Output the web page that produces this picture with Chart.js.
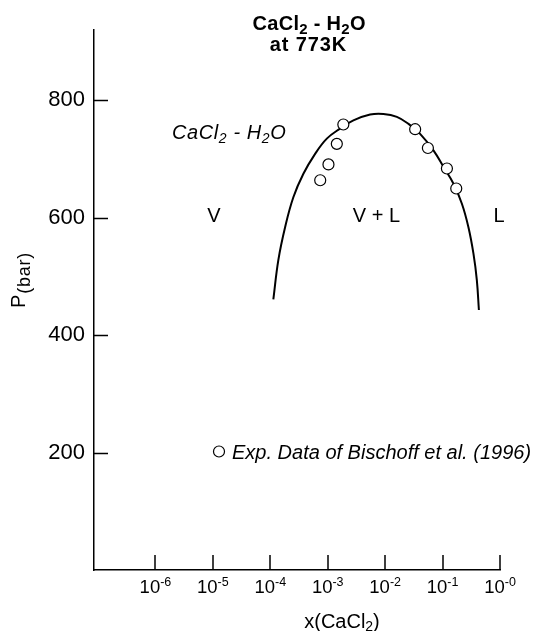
<!DOCTYPE html>
<html>
<head>
<meta charset="utf-8">
<title>CaCl2 - H2O at 773K</title>
<script src="https://cdn.jsdelivr.net/npm/chart.js@4.4.1/dist/chart.umd.min.js"></script>
<style>
  html, body { margin: 0; padding: 0; background: #fff; }
  #c { display: block; }
</style>
</head>
<body>
<canvas id="c" width="534" height="631"></canvas>
<script>
// Two-phase (V + L) boundary of CaCl2 - H2O at 773 K
const boundaryX = [1.13e-4, 1.38e-4, 1.81e-4, 2.52e-4, 3.77e-4, 6.03e-4, 9.64e-4, 1.64e-3,
                   2.80e-3, 5.47e-3, 9.33e-3, 0.0160, 0.0255, 0.0406, 0.0693, 0.1035,
                   0.155, 0.217, 0.282, 0.345, 0.395, 0.429];
const boundaryP = [461, 528, 584, 635, 675, 709, 735, 752,
                   766, 776, 777, 772, 760, 743, 715, 687,
                   658, 624, 584, 539, 494, 443];

// Experimental data, Bischoff et al. (1996)
const expX = [7.4e-4, 1.03e-3, 1.44e-3, 1.87e-3, 0.0333, 0.0555, 0.119, 0.173];
const expP = [664, 691, 726, 759, 751, 719, 684, 650];

// Axis ticks
const yTickValues = [200, 400, 600, 800];
const xTickExponents = ['-6', '-5', '-4', '-3', '-2', '-1', '-0'];
const xTickValues = [1e-6, 1e-5, 1e-4, 1e-3, 1e-2, 1e-1, 1];

const FONT = '"Liberation Sans", Arial, Helvetica, sans-serif';
const INK = '#000';

function fontStr(r) {
  const parts = [];
  if (r.style) parts.push(r.style);
  if (r.weight) parts.push(r.weight);
  parts.push(r.size + 'px');
  parts.push(FONT);
  return parts.join(' ');
}

// Draws a run of text pieces (with sub/superscripts), optionally with tracking.
function drawRich(ctx, runs, x, y, align, track) {
  track = track || 0;
  const items = [];
  let total = 0;
  for (const r of runs) {
    const f = fontStr(r);
    ctx.font = f;
    if (!track) {
      const w = ctx.measureText(r.t).width;
      items.push({ ch: r.t, f, w, dy: r.dy || 0 });
      total += w;
      continue;
    }
    for (const ch of r.t) {
      const w = ctx.measureText(ch).width;
      items.push({ ch, f, w, dy: r.dy || 0 });
      total += w + track;
    }
  }
  if (track) total -= track;
  let cx = align === 'center' ? x - total / 2 : align === 'right' ? x - total : x;
  ctx.textAlign = 'left';
  ctx.textBaseline = 'alphabetic';
  ctx.fillStyle = INK;
  for (const it of items) {
    ctx.font = it.f;
    ctx.fillText(it.ch, cx, y + it.dy);
    cx += it.w + track;
  }
}

const decorations = {
  id: 'decorations',
  afterDraw(chart) {
    const ctx = chart.ctx;
    const xs = chart.scales.x, ys = chart.scales.y;
    const area = chart.chartArea;
    ctx.save();

    // inward tick marks
    ctx.strokeStyle = INK;
    ctx.lineWidth = 1.5;
    ctx.beginPath();
    for (const v of yTickValues) {
      const py = Math.round(ys.getPixelForValue(v)) + 0.5;
      ctx.moveTo(area.left, py);
      ctx.lineTo(area.left + 14, py);
    }
    for (const v of xTickValues) {
      const px = Math.round(xs.getPixelForValue(v));
      ctx.moveTo(px, area.bottom);
      ctx.lineTo(px, area.bottom - 15);
    }
    ctx.stroke();

    // x tick labels: 10 with superscript exponent
    xTickValues.forEach((v, i) => {
      const px = xs.getPixelForValue(v);
      drawRich(ctx, [
        { t: '10', size: 18.5 },
        { t: xTickExponents[i], size: 12.5, dy: -7 }
      ], px, 593, 'center', 0);
    });

    // title
    drawRich(ctx, [
      { t: 'CaCl', size: 20, weight: 'bold' },
      { t: '2', size: 15, weight: 'bold', dy: 3.5 },
      { t: ' - H', size: 20, weight: 'bold' },
      { t: '2', size: 15, weight: 'bold', dy: 3.5 },
      { t: 'O', size: 20, weight: 'bold' }
    ], 309, 30, 'center', 0.3);
    drawRich(ctx, [{ t: 'at 773K', size: 20, weight: 'bold' }], 308, 51, 'center', 0.9);

    // system label
    drawRich(ctx, [
      { t: 'CaCl', size: 20, style: 'italic' },
      { t: '2', size: 14, style: 'italic', dy: 4 },
      { t: ' - H', size: 20, style: 'italic' },
      { t: '2', size: 14, style: 'italic', dy: 4 },
      { t: 'O', size: 20, style: 'italic' }
    ], 172, 139, 'left', 0.6);

    // phase region labels
    drawRich(ctx, [{ t: 'V', size: 20 }], 214, 222, 'center', 0);
    drawRich(ctx, [{ t: 'V + L', size: 20 }], 376.5, 222, 'center', 0);
    drawRich(ctx, [{ t: 'L', size: 20 }], 499, 222, 'center', 0);

    // legend
    ctx.beginPath();
    ctx.arc(219, 451.5, 5.5, 0, Math.PI * 2);
    ctx.fillStyle = '#fff';
    ctx.fill();
    ctx.lineWidth = 1.2;
    ctx.strokeStyle = INK;
    ctx.stroke();
    drawRich(ctx, [{ t: 'Exp. Data of Bischoff et al. (1996)', size: 20, style: 'italic' }], 232, 458.5, 'left', 0);

    // axis titles
    drawRich(ctx, [
      { t: 'x(CaCl', size: 20 },
      { t: '2', size: 14, dy: 3 },
      { t: ')', size: 20 }
    ], 342, 628, 'center', 0);

    ctx.save();
    ctx.translate(25, 308);
    ctx.rotate(-Math.PI / 2);
    drawRich(ctx, [
      { t: 'P', size: 20 },
      { t: '(bar)', size: 18, dy: 5 }
    ], 0, 0, 'left', 0.8);
    ctx.restore();

    ctx.restore();
  }
};

const boundary = boundaryX.map((x, i) => ({ x, y: boundaryP[i] }));
const experiments = expX.map((x, i) => ({ x, y: expP[i] }));

new Chart(document.getElementById('c'), {
  type: 'scatter',
  data: {
    datasets: [
      {
        label: 'Exp. Data of Bischoff et al. (1996)',
        data: experiments,
        order: 0,
        pointRadius: 5.5,
        pointBorderWidth: 1.2,
        pointBackgroundColor: '#fff',
        pointBorderColor: INK,
        showLine: false
      },
      {
        label: 'CaCl2 - H2O',
        data: boundary,
        order: 1,
        showLine: true,
        tension: 0.4,
        borderColor: INK,
        borderWidth: 2,
        pointRadius: 0,
        fill: false
      }
    ]
  },
  options: {
    responsive: false,
    animation: false,
    devicePixelRatio: 1,
    layout: { padding: { left: 0, right: 34, top: 30, bottom: 0 } },
    plugins: { legend: { display: false }, tooltip: { enabled: false } },
    scales: {
      x: {
        type: 'logarithmic',
        min: Math.pow(10, -7.07),
        max: 1,
        grid: { display: false, drawTicks: false },
        border: { display: true, color: INK, width: 1.5 },
        ticks: { display: false },
        afterFit(scale) { scale.height = 61; }
      },
      y: {
        type: 'linear',
        min: 0,
        max: 920,
        grid: { display: false, drawTicks: false },
        border: { display: true, color: INK, width: 1.5 },
        ticks: {
          stepSize: 200,
          includeBounds: false,
          padding: 9,
          color: INK,
          font: { family: FONT, size: 22 },
          callback: v => (yTickValues.includes(v) ? String(v) : '')
        },
        afterFit(scale) { scale.width = 94; }
      }
    }
  },
  plugins: [decorations]
});
</script>
</body>
</html>
